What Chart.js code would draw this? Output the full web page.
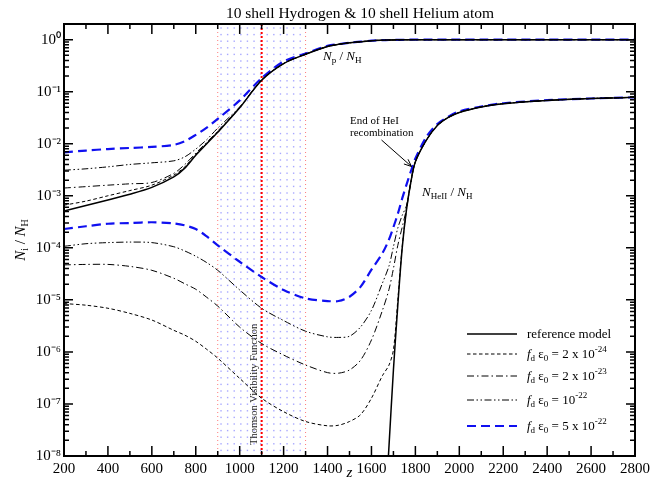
<!DOCTYPE html>
<html>
<head>
<meta charset="utf-8">
<script src="https://cdn.jsdelivr.net/npm/chart.js@4.4.0/dist/chart.umd.min.js"></script>
<style>
  html, body { margin: 0; padding: 0; background: #fff; }
</style>
</head>
<body>
<canvas id="chart" width="663" height="487"></canvas>
<script>
// redshift grid shared by all curves
const zGrid = [200,300,400,500,600,700,750,800,850,900,1000,1100,1200,1300,1400,1450,1500,1550,1600,1650,1680,1700,1720,1740,1760,1780,1800,1850,1900,1950,2000,2100,2200,2400,2600,2800];

// N_p / N_H
const npRef  = [5.1e-4,6.5e-4,8.3e-4,1.07e-3,1.45e-3,2.3e-3,3.4e-3,6.0e-3,1.0e-2,1.66e-2,4.9e-2,0.166,0.347,0.525,0.741,0.813,0.871,0.912,0.955,0.977,0.985,0.989,0.993,0.995,0.997,0.998,0.999,1,1,1,1,1,1,1,1,1];
const npF24  = [6.6e-4,7.9e-4,1.0e-3,1.26e-3,1.6e-3,2.5e-3,3.6e-3,6.3e-3,1.02e-2,1.7e-2,4.9e-2,0.166,0.347,0.525,0.741,0.813,0.871,0.912,0.955,0.977,0.985,0.989,0.993,0.995,0.997,0.998,0.999,1,1,1,1,1,1,1,1,1];
const npF23  = [1.41e-3,1.5e-3,1.6e-3,1.7e-3,1.8e-3,2.7e-3,4.0e-3,6.6e-3,1.07e-2,1.75e-2,5.0e-2,0.167,0.347,0.525,0.741,0.813,0.871,0.912,0.955,0.977,0.985,0.989,0.993,0.995,0.997,0.998,0.999,1,1,1,1,1,1,1,1,1];
const npF22  = [3.1e-3,3.3e-3,3.6e-3,4.0e-3,4.3e-3,4.7e-3,5.6e-3,7.9e-3,1.2e-2,2.0e-2,5.1e-2,0.17,0.35,0.527,0.742,0.813,0.871,0.912,0.955,0.977,0.985,0.989,0.993,0.995,0.997,0.998,0.999,1,1,1,1,1,1,1,1,1];
const npF522 = [6.8e-3,7.4e-3,7.9e-3,8.3e-3,8.7e-3,9.5e-3,1.12e-2,1.48e-2,2.04e-2,3.0e-2,6.8e-2,0.182,0.38,0.54,0.76,0.82,0.875,0.914,0.956,0.977,0.985,0.989,0.993,0.995,0.997,0.998,0.999,1,1,1,1,1,1,1,1,1];

// N_HeII / N_H
const heRef  = [null,null,null,null,null,null,null,null,null,null,null,null,null,null,null,null,null,null,null,1e-10,1.6e-8,4.5e-7,7.9e-6,1.0e-4,5.6e-4,1.9e-3,4.5e-3,1.17e-2,2.24e-2,3.2e-2,4.0e-2,5.1e-2,5.9e-2,6.8e-2,7.4e-2,7.8e-2];
const heF24  = [8.5e-6,7.9e-6,6.9e-6,5.5e-6,4.1e-6,2.6e-6,2.1e-6,1.6e-6,1.12e-6,7.6e-7,3.1e-7,1.29e-7,7.1e-8,4.6e-8,3.8e-8,3.9e-8,4.6e-8,6.2e-8,1.29e-7,3.5e-7,5.6e-7,1.1e-6,1.0e-5,1.05e-4,5.7e-4,1.9e-3,4.5e-3,1.17e-2,2.24e-2,3.2e-2,4.0e-2,5.1e-2,5.9e-2,6.8e-2,7.4e-2,7.8e-2];
const heF23  = [4.7e-5,4.8e-5,4.8e-5,4.4e-5,3.7e-5,2.6e-5,2.04e-5,1.6e-5,1.12e-5,7.6e-6,3.0e-6,1.45e-6,8.7e-7,5.6e-7,4.0e-7,3.9e-7,4.5e-7,6.9e-7,1.7e-6,6.3e-6,1.6e-5,4.0e-5,1.12e-4,2.5e-4,5.8e-4,1.9e-3,4.5e-3,1.17e-2,2.24e-2,3.2e-2,4.0e-2,5.1e-2,5.9e-2,6.8e-2,7.4e-2,7.8e-2];
const heF22  = [1.07e-4,1.2e-4,1.26e-4,1.29e-4,1.26e-4,1.05e-4,8.7e-5,6.9e-5,5.2e-5,3.7e-5,1.55e-5,6.9e-6,4.0e-6,2.5e-6,1.95e-6,1.9e-6,2.0e-6,3.0e-6,6.3e-6,2.1e-5,4.5e-5,1.05e-4,2.4e-4,4.2e-4,6.6e-4,1.9e-3,4.5e-3,1.17e-2,2.24e-2,3.2e-2,4.0e-2,5.1e-2,5.9e-2,6.8e-2,7.4e-2,7.8e-2];
const heF522 = [2.3e-4,2.6e-4,2.9e-4,3.0e-4,3.1e-4,2.95e-4,2.7e-4,2.3e-4,1.66e-4,1.12e-4,5.4e-5,2.75e-5,1.55e-5,1.07e-5,9.5e-6,9.5e-6,1.15e-5,1.78e-5,3.8e-5,7.9e-5,1.45e-4,2.5e-4,4.5e-4,8.9e-4,1.66e-3,3.0e-3,5.2e-3,1.35e-2,2.4e-2,3.3e-2,4.2e-2,5.2e-2,6.0e-2,6.9e-2,7.4e-2,7.8e-2];

const seriesLabels = ['reference model', '2 x 10', '2 x 10', '10', '5 x 10'];
const seriesExp    = ['', '-24', '-23', '-22', '-22'];

const visStart = 900, visPeak = 1100, visEnd = 1300;
const yMin = 1e-8, yMax = 2;

const SERIF = '"Liberation Serif", "Times New Roman", serif';
const styles = [
  { color: '#000', width: 1.5, dash: [] },
  { color: '#000', width: 1, dash: [3.5, 2.5] },
  { color: '#000', width: 1, dash: [7, 3, 1.5, 3] },
  { color: '#000', width: 1, dash: [7, 2.5, 1.5, 2.5, 1.5, 2.5] },
  { color: '#1010f0', width: 2.2, dash: [9, 5] }
];

function makeSet(values, i) {
  const s = styles[i];
  return {
    data: zGrid.map((z, k) => ({ x: z, y: values[k] })),
    borderColor: s.color,
    borderWidth: s.width,
    borderDash: s.dash,
    pointRadius: 0,
    fill: false,
    tension: 0.3
  };
}

const supMap = { '-': '\u207B', '0': '\u2070', '1': '\u00B9', '2': '\u00B2', '3': '\u00B3', '4': '\u2074', '5': '\u2075', '6': '\u2076', '7': '\u2077', '8': '\u2078', '9': '\u2079' };
const sup = n => String(n).split('').map(c => supMap[c]).join('');

function rich(ctx, x, y, parts, dry) {
  let cx = x;
  for (const [t, f, dy] of parts) {
    ctx.font = f;
    if (!dry) ctx.fillText(t, cx, y + (dy || 0));
    cx += ctx.measureText(t).width;
  }
  return cx - x;
}

const decor = {
  id: 'decor',
  beforeDatasetsDraw(chart) {
    const { ctx, chartArea: a, scales: { x } } = chart;
    const x0 = x.getPixelForValue(visStart), x1 = x.getPixelForValue(visEnd), xm = x.getPixelForValue(visPeak);
    ctx.save();
    ctx.fillStyle = 'rgba(110,110,255,0.6)';
    for (let px = x0 + 3.3; px < x1 - 1; px += 6.6)
      for (let py = a.top + 4; py < a.bottom; py += 6.6)
        ctx.fillRect(px - 0.7, py - 0.7, 1.4, 1.4);
    ctx.strokeStyle = 'rgba(255,90,90,0.8)';
    ctx.lineWidth = 1;
    ctx.setLineDash([1, 3]);
    for (const px of [x0, x1]) {
      ctx.beginPath(); ctx.moveTo(px, a.top); ctx.lineTo(px, a.bottom); ctx.stroke();
    }
    ctx.strokeStyle = '#ff0000';
    ctx.lineWidth = 2;
    ctx.setLineDash([2, 2]);
    ctx.beginPath(); ctx.moveTo(xm, a.top); ctx.lineTo(xm, a.bottom); ctx.stroke();
    ctx.setLineDash([]);
    ctx.translate(xm - 5, a.bottom - 11);
    ctx.rotate(-Math.PI / 2);
    ctx.fillStyle = '#222';
    ctx.font = '10.5px ' + SERIF;
    ctx.textAlign = 'left';
    ctx.fillText('Thomson Visibility Function', 0, 0);
    ctx.restore();
  },
  afterDraw(chart) {
    const { ctx, chartArea: a, scales: { x, y } } = chart;
    ctx.save();
    ctx.strokeStyle = '#000';
    ctx.fillStyle = '#000';
    ctx.setLineDash([]);

    // inward tick marks on all four sides
    ctx.lineWidth = 1.5;
    ctx.beginPath();
    for (let z = 200; z <= 2800; z += 100) {
      const px = x.getPixelForValue(z), len = z % 200 === 0 ? 10 : 5;
      ctx.moveTo(px, a.bottom); ctx.lineTo(px, a.bottom - len);
      ctx.moveTo(px, a.top); ctx.lineTo(px, a.top + len);
    }
    for (let e = -8; e <= 0; e++) {
      for (let m = 1; m <= 9; m++) {
        const v = m * Math.pow(10, e);
        if (v > yMax) break;
        const py = y.getPixelForValue(v), len = m === 1 ? 9 : 5;
        ctx.moveTo(a.left, py); ctx.lineTo(a.left + len, py);
        ctx.moveTo(a.right, py); ctx.lineTo(a.right - len, py);
      }
    }
    ctx.stroke();

    // frame
    ctx.lineWidth = 2;
    ctx.strokeRect(a.left, a.top, a.right - a.left, a.bottom - a.top);

    // title
    ctx.textAlign = 'center';
    ctx.textBaseline = 'alphabetic';
    ctx.font = '15.5px ' + SERIF;
    ctx.fillText('10 shell Hydrogen & 10 shell Helium atom', 360, 17.5);

    // x axis title
    ctx.font = 'italic 15px ' + SERIF;
    ctx.fillText('z', (a.left + a.right) / 2, 477);
    ctx.textAlign = 'left';

    // y axis title
    const yParts = [['N', 'italic 15px ' + SERIF], ['i', '10px ' + SERIF, 3], [' / ', '15px ' + SERIF], ['N', 'italic 15px ' + SERIF], ['H', '10px ' + SERIF, 3]];
    const yw = rich(ctx, 0, 0, yParts, true);
    ctx.save();
    ctx.translate(25, (a.top + a.bottom) / 2 + yw / 2);
    ctx.rotate(-Math.PI / 2);
    rich(ctx, 0, 0, yParts);
    ctx.restore();

    // curve labels
    rich(ctx, 323, 60, [['N', 'italic 13px ' + SERIF], ['p', '9px ' + SERIF, 3], [' / ', '13px ' + SERIF], ['N', 'italic 13px ' + SERIF], ['H', '9px ' + SERIF, 3]]);
    rich(ctx, 422, 196, [['N', 'italic 13px ' + SERIF], ['HeII', '9px ' + SERIF, 3], [' / ', '13px ' + SERIF], ['N', 'italic 13px ' + SERIF], ['H', '9px ' + SERIF, 3]]);

    ctx.font = '11px ' + SERIF;
    ctx.fillText('End of HeI', 350, 124);
    ctx.fillText('recombination', 350, 135.5);
    ctx.lineWidth = 1;
    const ax0 = 381.5, ay0 = 140, ax1 = 411.5, ay1 = 166.5;
    const ang = Math.atan2(ay1 - ay0, ax1 - ax0);
    ctx.beginPath();
    ctx.moveTo(ax0, ay0); ctx.lineTo(ax1, ay1);
    ctx.moveTo(ax1, ay1); ctx.lineTo(ax1 - 8 * Math.cos(ang - 0.4), ay1 - 8 * Math.sin(ang - 0.4));
    ctx.moveTo(ax1, ay1); ctx.lineTo(ax1 - 8 * Math.cos(ang + 0.4), ay1 - 8 * Math.sin(ang + 0.4));
    ctx.stroke();

    // legend
    const rows = [334, 354, 376, 400, 426];
    rows.forEach((ry, i) => {
      const s = styles[i];
      ctx.strokeStyle = s.color;
      ctx.lineWidth = s.width;
      ctx.setLineDash(s.dash);
      ctx.beginPath(); ctx.moveTo(467, ry); ctx.lineTo(517, ry); ctx.stroke();
      ctx.setLineDash([]);
      ctx.fillStyle = '#000';
      if (i === 0) {
        ctx.font = '13px ' + SERIF;
        ctx.fillText(seriesLabels[0], 527, ry + 4);
      } else {
        rich(ctx, 527, ry + 4, [
          ['f', 'italic 13px ' + SERIF], ['d', '9px ' + SERIF, 3],
          [' \u03B5', '13px ' + SERIF], ['0', '9px ' + SERIF, 3],
          [' = ' + seriesLabels[i], '13px ' + SERIF], [seriesExp[i], '9px ' + SERIF, -6]
        ]);
      }
    });
    ctx.restore();
  }
};

new Chart(document.getElementById('chart'), {
  type: 'line',
  data: {
    datasets: [
      makeSet(npRef, 0), makeSet(heRef, 0),
      makeSet(npF24, 1), makeSet(heF24, 1),
      makeSet(npF23, 2), makeSet(heF23, 2),
      makeSet(npF22, 3), makeSet(heF22, 3),
      makeSet(npF522, 4), makeSet(heF522, 4)
    ]
  },
  options: {
    responsive: false,
    animation: false,
    devicePixelRatio: 1,
    layout: { padding: { top: 24, right: 28, left: 0, bottom: 0 } },
    plugins: { legend: { display: false }, title: { display: false }, tooltip: { enabled: false } },
    scales: {
      x: {
        type: 'linear', min: 200, max: 2800,
        grid: { display: false, drawTicks: false },
        border: { display: false },
        ticks: { stepSize: 200, autoSkip: false, maxRotation: 0, padding: 4, color: '#000', font: { family: SERIF, size: 15 }, callback: v => String(v) },
        afterFit(s) { s.height = 31; }
      },
      y: {
        type: 'logarithmic', min: yMin, max: yMax,
        grid: { display: false, drawTicks: false },
        border: { display: false },
        ticks: {
          autoSkip: false, padding: 3, color: '#000', font: { family: SERIF, size: 15 },
          callback: v => {
            const e = Math.log10(v), r = Math.round(e);
            return Math.abs(e - r) < 1e-9 ? '10' + sup(r) : '';
          }
        },
        afterFit(s) { s.width = 64; }
      }
    }
  },
  plugins: [decor]
});
</script>
</body>
</html>
